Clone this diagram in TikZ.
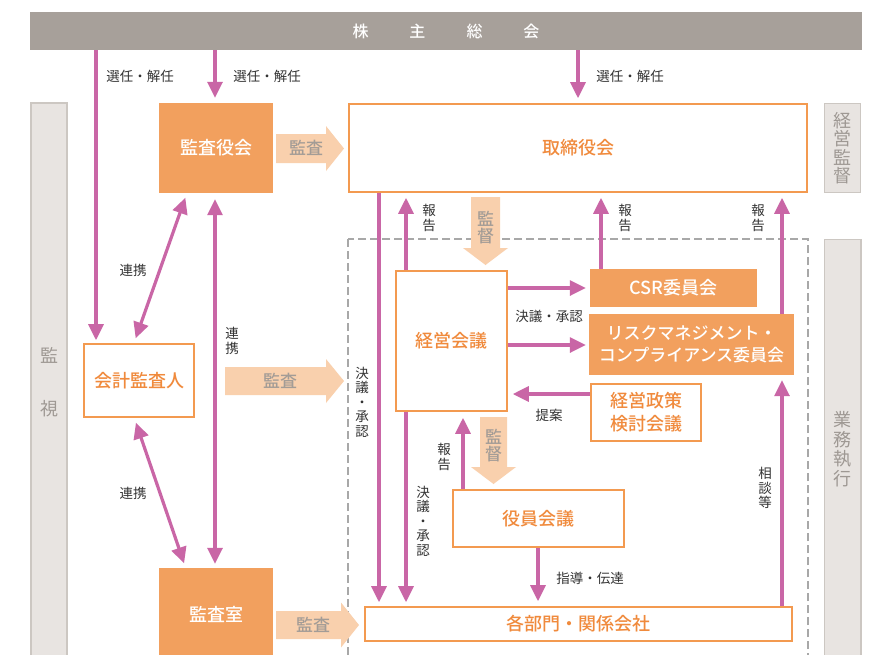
\documentclass[tikz,border=0pt]{standalone}
\usepackage{fontspec}
\setmainfont{Noto Sans CJK JP}[BoldFont={Noto Sans CJK JP Medium}]
\usetikzlibrary{arrows.meta}
\definecolor{barg}{HTML}{A7A09A}
\definecolor{sidef}{HTML}{E8E4E1}
\definecolor{sided}{HTML}{CCC7C2}
\definecolor{sidet}{HTML}{9E9893}
\definecolor{orf}{HTML}{F2A05E}
\definecolor{ord}{HTML}{F39A50}
\definecolor{ort}{HTML}{F08A3C}
\definecolor{peach}{HTML}{F9D0AD}
\definecolor{peacht}{HTML}{A39C96}
\definecolor{pk}{HTML}{C966A6}
\definecolor{dsh}{HTML}{A8A8A8}
\definecolor{lbl}{HTML}{333333}
\newcommand\peachR[5]{\fill[peach] (#1,{#3-#4}) -- ({#2-18},{#3-#4}) -- ({#2-18},{#3-#5}) -- (#2,#3) -- ({#2-18},{#3+#5}) -- ({#2-18},{#3+#4}) -- (#1,{#3+#4}) -- cycle;}
\newcommand\peachD[5]{\fill[peach] ({#1-#4},#2) -- ({#1-#4},{#3-17}) -- ({#1-#5},{#3-17}) -- (#1,#3) -- ({#1+#5},{#3-17}) -- ({#1+#4},{#3-17}) -- ({#1+#4},#2) -- cycle;}
\tikzset{
 filledbox/.style={fill=orf, text=white, font=\fontsize{18}{22}\selectfont\bfseries, inner sep=0pt, align=center},
 outbox/.style={draw=ord, line width=1.6pt, fill=white, text=ort, font=\fontsize{18}{23}\selectfont\bfseries, inner sep=0pt, align=center},
 arr/.style={draw=pk, line width=3.2pt, -{Triangle[length=16pt,width=15pt]}},
 darr/.style={draw=pk, line width=3.2pt, {Triangle[length=16pt,width=15pt]}-{Triangle[length=16pt,width=15pt]}},
 lab/.style={text=lbl, font=\fontsize{13.5}{14.5}\selectfont, inner sep=0pt, align=center},
 sidebox/.style={fill=sidef, draw=sided, line width=1.5pt},
 sidetxt/.style={text=sidet, font=\fontsize{18}{18.5}\selectfont, inner sep=0pt, align=center},
 peachtxt/.style={text=peacht, font=\fontsize{17}{17}\selectfont\bfseries, inner sep=0pt, align=center}
}
\begin{document}
\begin{tikzpicture}[x=1pt,y=-1pt]
\clip (0,0) rectangle (871,654);
\fill[white] (0,0) rectangle (871,654);
% shareholders bar
\node[fill=barg, text=white, minimum width=832pt, minimum height=38pt, inner sep=0pt, font=\fontsize{16}{16}\selectfont\bfseries] (soukai) at (446,31) {株\hspace{41pt}主\hspace{41pt}総\hspace{41pt}会};
% side bars
\draw[sidebox] (31,103) rectangle (67,700);
\node[sidetxt] (kan) at (49,355) {監};
\node[sidetxt] (shi) at (49,409) {視};
\node[sidebox, minimum width=36pt, minimum height=89pt, inner sep=0pt] (keieikantoku) at (842.5,148) {};
\node[sidetxt] at (keieikantoku) {経\\営\\監\\督};
\draw[sidebox] (824.5,239.5) rectangle (861,700);
\node[sidetxt, font=\fontsize{18}{19.5}\selectfont] (gyomu) at (842.5,449) {業\\務\\執\\行};
% dashed region
\draw[dsh, line width=1.2pt, dash pattern=on 8pt off 4pt] (348,239) rectangle (808,700);
% boxes
\node[filledbox, minimum width=114pt, minimum height=90pt] (kansayaku) at (216,148) {監査役会};
\node[outbox, minimum width=458pt, minimum height=88pt] (torishimari) at (578,148) {取締役会};
\node[outbox, minimum width=110pt, minimum height=73pt] (kaikei) at (139,380.5) {会計監査人};
\node[filledbox, minimum width=114pt, minimum height=92pt] (kansashitsu) at (216,614) {監査室};
\node[outbox, minimum width=111pt, minimum height=140pt] (keiei) at (451.5,341) {経営会議};
\node[filledbox, minimum width=167pt, minimum height=38pt] (csr) at (673.5,288) {CSR委員会};
\node[filledbox, minimum width=205pt, minimum height=61pt, font=\fontsize{17}{22}\selectfont\bfseries] (risk) at (691.5,344.5) {リスクマネジメント・\\コンプライアンス委員会};
\node[outbox, minimum width=110pt, minimum height=57pt] (seisaku) at (646,412.5) {経営政策\\検討会議};
\node[outbox, minimum width=171pt, minimum height=57pt] (yakuin) at (538.5,518.5) {役員会議};
\node[outbox, minimum width=427pt, minimum height=34pt] (kakubu) at (578.5,624) {各部門・関係会社};
% peach arrows
\peachR{276}{344}{148.5}{14.5}{22.5}
\node[peachtxt] (pt1) at (306,148) {監査};
\peachR{225}{344}{381}{14}{22}
\node[peachtxt] (pt2) at (280,381) {監査};
\peachR{276}{359}{625}{14}{22.5}
\node[peachtxt] (pt3) at (313,625) {監査};
\peachD{485.5}{197}{265}{14.5}{22.5}
\node[peachtxt] (pt4) at (485.5,227.5) {監\\督};
\peachD{493.5}{417}{484}{13.5}{22.5}
\node[peachtxt] (pt5) at (493.5,446) {監\\督};
% column / row coordinates
\coordinate (c96) at (96,0);
\coordinate (c215) at (215,0);
\coordinate (c578) at (578,0);
\coordinate (c379) at (379,0);
\coordinate (c406) at (406,0);
\coordinate (c463) at (463,0);
\coordinate (c538) at (538,0);
\coordinate (c601) at (601,0);
\coordinate (c782) at (782,0);
\coordinate (r288) at (0,288);
\coordinate (r345) at (0,345);
\coordinate (r394) at (0,394);
% pink arrows
\draw[arr, shorten >=3pt] (soukai.south -| c96) -- (kaikei.north -| c96);
\draw[arr, shorten >=5pt] (soukai.south -| c215) -- (kansayaku.north -| c215);
\draw[arr, shorten >=5pt] (soukai.south -| c578) -- (torishimari.north -| c578);
\coordinate (d1a) at (187,193);
\coordinate (d1b) at (134,343);
\draw[darr, shorten >=5pt, shorten <=5pt] (d1a) -- (d1b);
\coordinate (d2a) at (134.3,418);
\coordinate (d2b) at (185.7,568);
\draw[darr, shorten >=5pt, shorten <=5pt] (d2a) -- (d2b);
\draw[darr, shorten >=4pt, shorten <=6pt] (kansayaku.south -| c215) -- (kansashitsu.north -| c215);
\draw[arr, shorten >=4pt] (torishimari.south -| c379) -- (kakubu.north -| c379);
\draw[arr, shorten >=5pt] (keiei.north -| c406) -- (torishimari.south -| c406);
\draw[arr, shorten >=4pt] (keiei.south -| c406) -- (kakubu.north -| c406);
\draw[arr, shorten >=4pt] (keiei.east |- r288) -- (csr.west |- r288);
\draw[arr, shorten >=3pt] (keiei.east |- r345) -- (risk.west |- r345);
\draw[arr, shorten >=5pt] (seisaku.west |- r394) -- (keiei.east |- r394);
\draw[arr, shorten >=5pt] (csr.north -| c601) -- (torishimari.south -| c601);
\draw[arr, shorten >=5pt] (risk.north -| c782) -- (torishimari.south -| c782);
\draw[arr, shorten >=5pt] (kakubu.north -| c782) -- (risk.south -| c782);
\draw[arr, shorten >=6pt] (yakuin.north -| c463) -- (keiei.south -| c463);
\draw[arr, shorten >=5pt] (yakuin.south -| c538) -- (kakubu.north -| c538);
% labels
\node[lab] (l1) at (140,76) {選任・解任};
\node[lab] (l2) at (267,76) {選任・解任};
\node[lab] (l3) at (630,76) {選任・解任};
\node[lab] (l4) at (133,270) {連携};
\node[lab] (l5) at (232,341) {連\\携};
\node[lab] (l6) at (133,493) {連携};
\node[lab] (l7) at (362,402) {決\\議\\・\\承\\認};
\node[lab] (l8) at (423,521) {決\\議\\・\\承\\認};
\node[lab] (l9) at (429,218) {報\\告};
\node[lab] (l10) at (625,218) {報\\告};
\node[lab] (l11) at (758,218) {報\\告};
\node[lab] (l12) at (444,457) {報\\告};
\node[lab] (l13) at (549,316) {決議・承認};
\node[lab] (l14) at (549,415) {提案};
\node[lab] (l15) at (765,488) {相\\談\\等};
\node[lab] (l16) at (590,578) {指導・伝達};
\end{tikzpicture}
\end{document}
